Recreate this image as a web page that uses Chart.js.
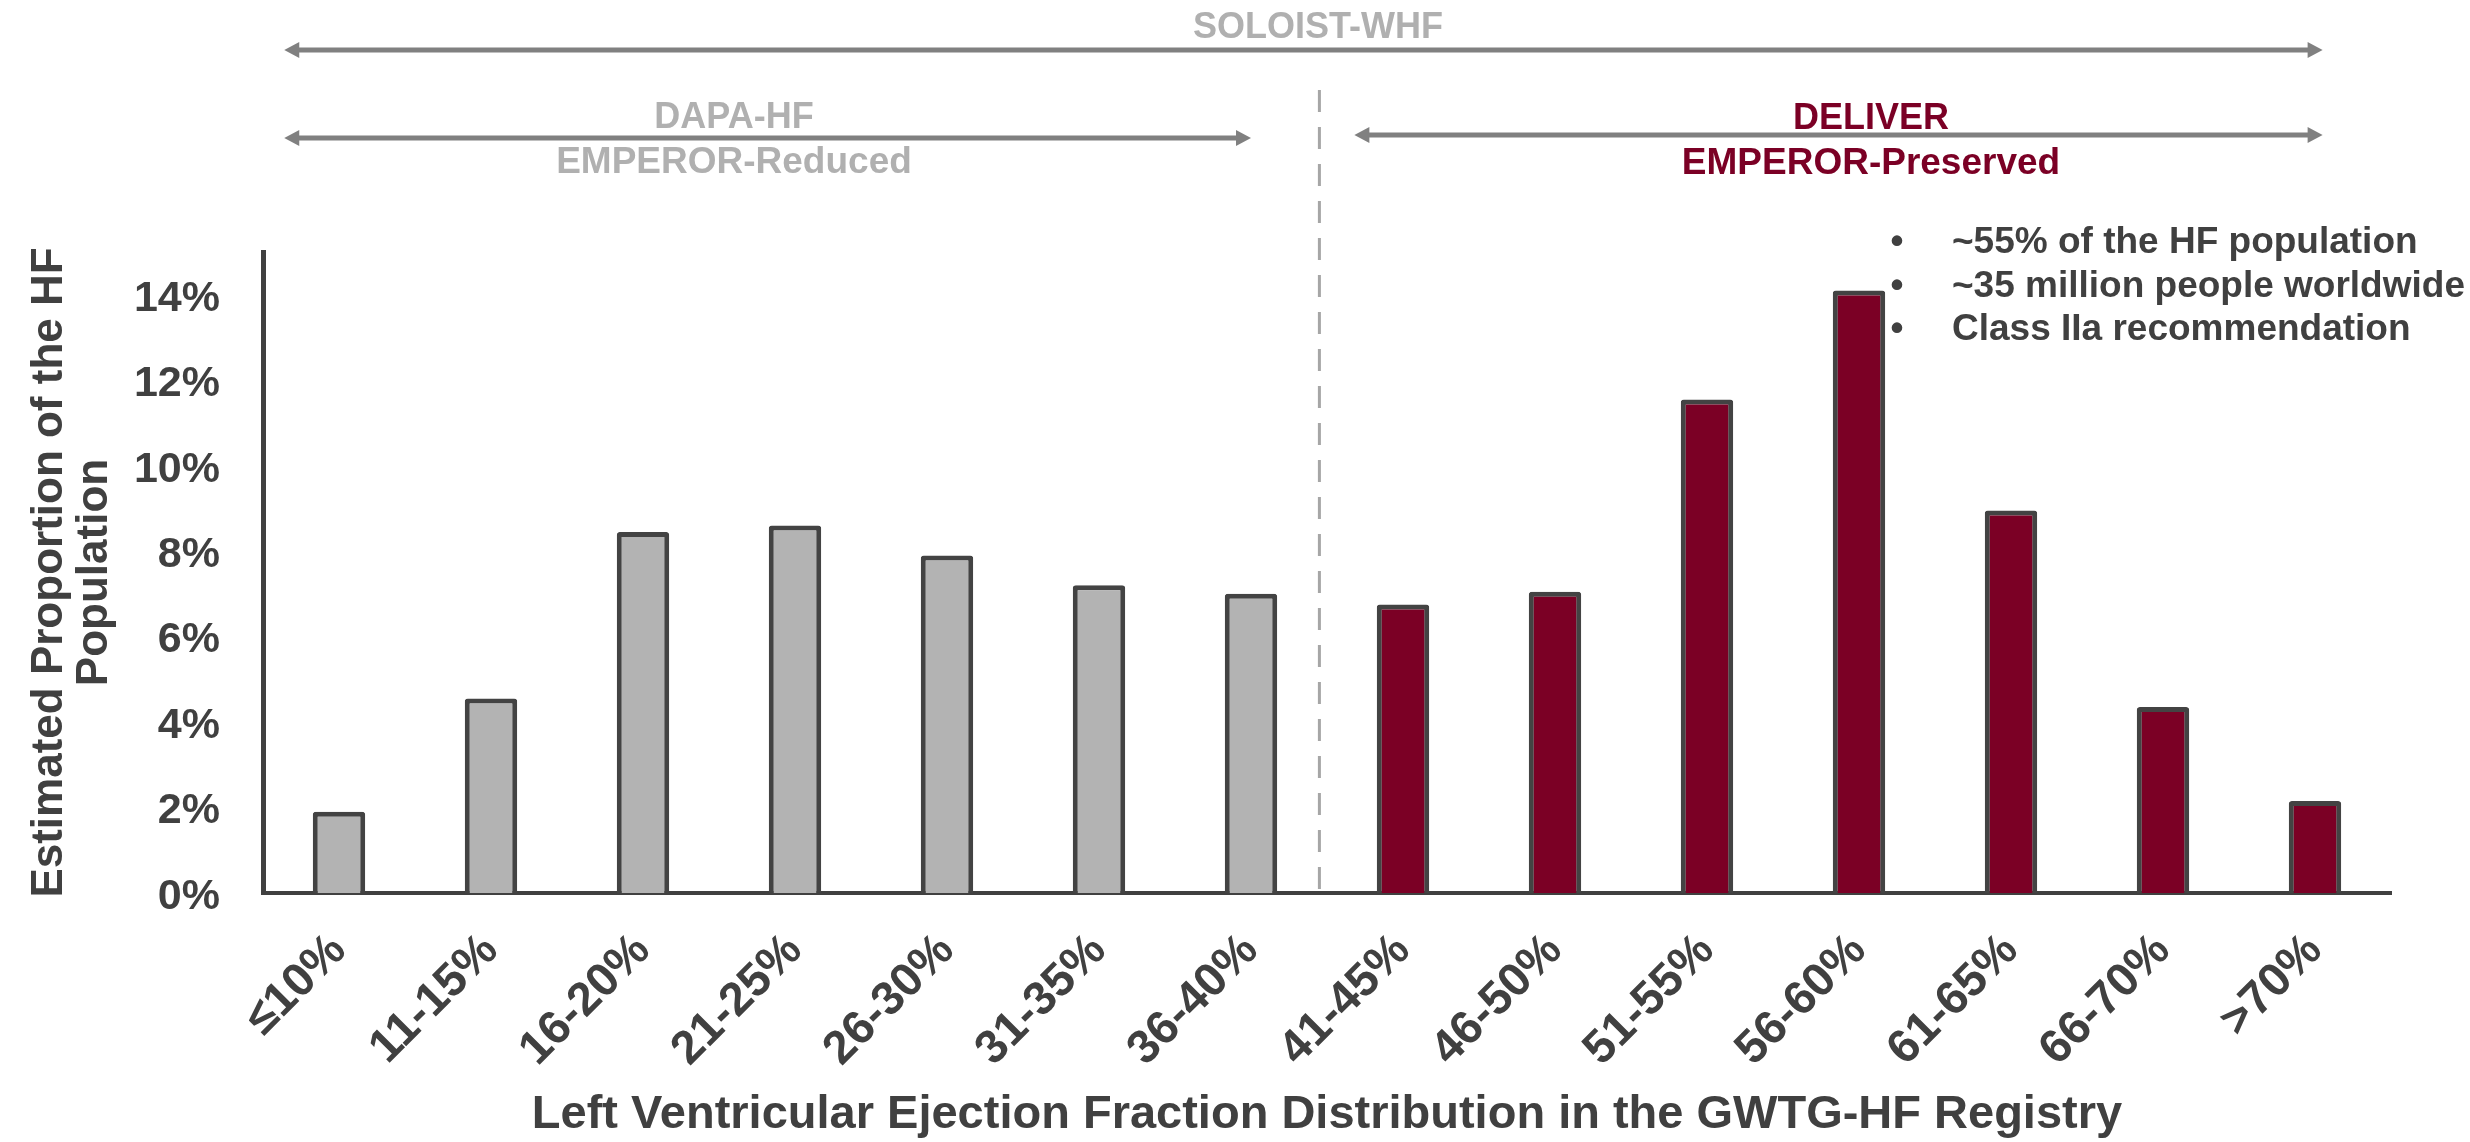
<!DOCTYPE html>
<html>
<head>
<meta charset="utf-8">
<script src="https://cdn.jsdelivr.net/npm/chart.js@4.4.1/dist/chart.umd.min.js"></script>
<style>
  html, body { margin: 0; padding: 0; background: #ffffff; }
  #contenedor { width: 2470px; height: 1142px; }
</style>
</head>
<body>
<div id="contenedor"><canvas id="plot" width="2470" height="1142"></canvas></div>
<script>
//Categorías de FEVI
let categorias = ["≤10%", "11-15%", "16-20%", "21-25%", "26-30%", "31-35%", "36-40%",
  "41-45%", "46-50%", "51-55%", "56-60%", "61-65%", "66-70%", ">70%"];

//Proporción estimada de la población con IC (%)
let proporcion = [1.9, 4.55, 8.45, 8.6, 7.9, 7.2, 7.0, 6.75, 7.05, 11.55, 14.1, 8.95, 4.35, 2.15];

//Marcas del eje Y
let marcasY = [0, 2, 4, 6, 8, 10, 12, 14];

//Ensayos por rango de FEVI
let ensayoTodos = "SOLOIST-WHF";
let ensayosReducida = ["DAPA-HF", "EMPEROR-Reduced"];
let ensayosPreservada = ["DELIVER", "EMPEROR-Preserved"];

//Notas sobre FEVI > 40%
let notas = ["~55% of the HF population", "~35 million people worldwide", "Class IIa recommendation"];

let GRIS_TEXTO = "#404040";
let GRIS_CLARO = "#b0b0b0";
let GRIS_FLECHA = "#808080";
let GRANATE = "#7b0025";
let FUENTE = "'Liberation Sans', Arial, sans-serif";

Chart.defaults.font.family = FUENTE;
Chart.defaults.color = GRIS_TEXTO;

//Flecha horizontal de doble punta
let flecha = (ctx, x1, x2, y) => {
  let largo = 15, ancho = 8;
  ctx.strokeStyle = GRIS_FLECHA;
  ctx.fillStyle = GRIS_FLECHA;
  ctx.lineWidth = 5;
  ctx.beginPath();
  ctx.moveTo(x1 + largo - 2, y);
  ctx.lineTo(x2 - largo + 2, y);
  ctx.stroke();
  ctx.beginPath();
  ctx.moveTo(x1, y);
  ctx.lineTo(x1 + largo, y - ancho);
  ctx.lineTo(x1 + largo, y + ancho);
  ctx.closePath();
  ctx.fill();
  ctx.beginPath();
  ctx.moveTo(x2, y);
  ctx.lineTo(x2 - largo, y - ancho);
  ctx.lineTo(x2 - largo, y + ancho);
  ctx.closePath();
  ctx.fill();
};

//Flechas, textos de ensayos y línea de corte en 40%
let anotaciones = {
  id: "anotaciones",
  afterDraw: (chart) => {
    let ctx = chart.ctx;
    let x = chart.scales.x;
    let area = chart.chartArea;
    ctx.save();

    let xCorte = x.getPixelForValue(6.45);
    ctx.strokeStyle = "#a6a6a6";
    ctx.lineWidth = 3;
    ctx.setLineDash([22, 15]);
    ctx.beginPath();
    ctx.moveTo(xCorte, 90);
    ctx.lineTo(xCorte, area.bottom);
    ctx.stroke();
    ctx.setLineDash([]);

    let inicio = x.getPixelForValue(-0.36);
    let fin = x.getPixelForValue(13.05);
    flecha(ctx, inicio, fin, 50);
    flecha(ctx, inicio, x.getPixelForValue(6.0), 138);
    flecha(ctx, x.getPixelForValue(6.68), fin, 135);

    ctx.textAlign = "center";
    ctx.textBaseline = "alphabetic";
    ctx.fillStyle = GRIS_CLARO;
    ctx.font = "bold 36px " + FUENTE;
    ctx.fillText(ensayoTodos, 1318, 38);
    ctx.fillText(ensayosReducida[0], 734, 128);
    ctx.font = "bold 37px " + FUENTE;
    ctx.fillText(ensayosReducida[1], 734, 173);
    ctx.fillStyle = GRANATE;
    ctx.font = "bold 36px " + FUENTE;
    ctx.fillText(ensayosPreservada[0], 1871, 129);
    ctx.font = "bold 37px " + FUENTE;
    ctx.fillText(ensayosPreservada[1], 1871, 174);

    ctx.fillStyle = GRIS_TEXTO;
    ctx.font = "bold 37px " + FUENTE;
    notas.forEach((nota, i) => {
      let y = 253 + i * 43.5;
      ctx.textAlign = "center";
      ctx.fillText("•", 1897, y);
      ctx.textAlign = "left";
      ctx.fillText(nota, 1952, y);
    });
    ctx.restore();
  },
};

let plotRef = document.getElementById("plot");

let config = {
  type: "bar",
  data: {
    labels: categorias,
    datasets: [
      {
        label: "Proporción",
        data: proporcion,
        backgroundColor: (c) => (c.dataIndex < 7 ? "#b3b3b3" : GRANATE),
        borderColor: "#434343",
        borderWidth: 5,
        borderRadius: 3,
        barPercentage: 0.345,
        categoryPercentage: 1,
      },
    ],
  },
  options: {
    responsive: false,
    animation: false,
    devicePixelRatio: 1,
    layout: { padding: { top: 252, right: 79, bottom: 0, left: 0 } },
    plugins: {
      legend: { display: false },
      tooltip: { enabled: false },
    },
    scales: {
      x: {
        grid: { display: false, drawTicks: false },
        border: { display: true, color: GRIS_TEXTO, width: 4 },
        ticks: {
          font: { size: 47, weight: "bold" },
          color: GRIS_TEXTO,
          minRotation: 45,
          maxRotation: 45,
          autoSkip: false,
          padding: 30,
        },
        title: {
          display: true,
          text: "Left Ventricular Ejection Fraction Distribution in the GWTG-HF Registry",
          font: { size: 47, weight: "bold", lineHeight: 1.1 },
          color: GRIS_TEXTO,
          padding: { top: 0, bottom: 1 },
        },
        afterFit: (scale) => {
          scale.height = 249;
        },
      },
      y: {
        min: 0,
        max: 15,
        grid: { display: false, drawTicks: false },
        border: { display: true, color: GRIS_TEXTO, width: 5 },
        afterBuildTicks: (scale) => {
          scale.ticks = marcasY.map((v) => ({ value: v }));
        },
        ticks: {
          font: { size: 43, weight: "bold" },
          color: GRIS_TEXTO,
          padding: 43,
          labelOffset: 4,
          callback: (v) => v + "%",
        },
        title: {
          display: true,
          text: ["Estimated Proportion of the HF", "Population"],
          font: { size: 44, weight: "bold", lineHeight: 1.03 },
          color: GRIS_TEXTO,
          padding: { top: 27, bottom: 0 },
        },
        afterFit: (scale) => {
          scale.width = 263;
        },
      },
    },
  },
  plugins: [anotaciones],
};

let chart = new Chart(plotRef, config);
</script>
</body>
</html>
